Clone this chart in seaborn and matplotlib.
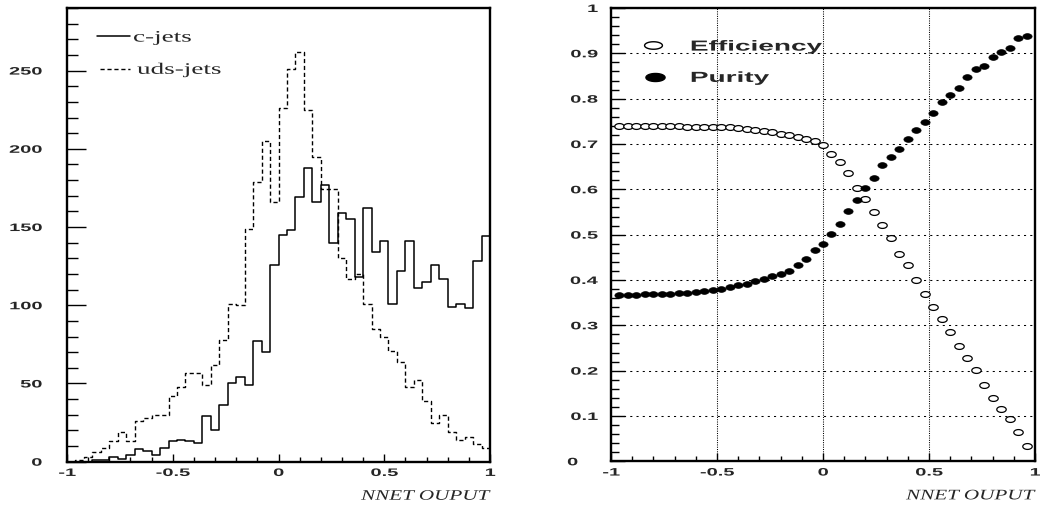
import matplotlib
matplotlib.use("Agg")
import matplotlib.pyplot as plt
import numpy as np
import pandas as pd
import seaborn as sns
from matplotlib.path import Path
from matplotlib.patheffects import AbstractPathEffect
from matplotlib.ticker import MultipleLocator
from matplotlib.transforms import Affine2D, ScaledTranslation

# ---- data ------------------------------------------------------------------
bin_edges = np.linspace(-1.0, 1.0, 51)   # 50 bins of width 0.04

c_jets = [0, 0, 0, 1, 1, 3, 2, 4, 8, 7,
          4, 9, 13, 14, 13, 12, 29, 20, 36, 50,
          54, 49, 77, 70, 126, 145, 148, 169, 188, 166,
          177, 140, 159, 155, 118, 162, 134, 141, 101, 122,
          141, 111, 115, 126, 117, 99, 101, 98, 128, 144]

uds_jets = [0, 1, 3, 6, 9, 13, 19, 13, 26, 28,
            30, 30, 42, 48, 57, 57, 49, 62, 78, 101,
            100, 149, 179, 205, 166, 226, 251, 262, 225, 195,
            174, 174, 130, 117, 120, 101, 85, 80, 71, 64,
            48, 52, 39, 25, 30, 19, 14, 16, 11, 9]

nnet_cut = np.round(np.linspace(-0.96, 0.96, 49), 2)

efficiency = [0.739, 0.739, 0.739, 0.739, 0.739, 0.739, 0.739, 0.739, 0.738, 0.738,
              0.738, 0.738, 0.737, 0.737, 0.735, 0.733, 0.731, 0.729, 0.726, 0.722,
              0.719, 0.715, 0.710, 0.706, 0.697, 0.678, 0.660, 0.637, 0.604, 0.578,
              0.549, 0.521, 0.492, 0.457, 0.433, 0.399, 0.369, 0.340, 0.315, 0.286,
              0.254, 0.227, 0.201, 0.168, 0.139, 0.115, 0.093, 0.065, 0.034]

purity = [0.366, 0.366, 0.367, 0.368, 0.369, 0.369, 0.370, 0.371, 0.372, 0.374,
          0.376, 0.378, 0.381, 0.384, 0.388, 0.392, 0.397, 0.402, 0.408, 0.414,
          0.420, 0.432, 0.446, 0.467, 0.480, 0.501, 0.524, 0.553, 0.576, 0.604,
          0.624, 0.654, 0.671, 0.689, 0.712, 0.730, 0.748, 0.768, 0.792, 0.809,
          0.824, 0.847, 0.865, 0.871, 0.891, 0.903, 0.912, 0.934, 0.939]

TICK_FONT = {"family": "Liberation Sans", "weight": "bold", "size": 7.8}
TITLE_FONT = {"family": "Liberation Serif", "style": "italic", "size": 10.5}

sns.set_style("white")
plt.rcParams["font.family"] = ["Liberation Sans", "DejaVu Sans"]


class HStretch(AbstractPathEffect):
    """Widen glyphs horizontally (the reference was rendered stretched)."""

    def __init__(self, sx, anchor=0.0):
        super().__init__()
        self._sx = sx
        self._anchor = anchor

    def draw_path(self, renderer, gc, tpath, affine, rgbFace=None):
        xs = tpath.vertices[:, 0]
        x0 = xs.min() + (xs.max() - xs.min()) * self._anchor if len(xs) else 0.0
        pre = Affine2D().translate(-x0, 0).scale(self._sx, 1.0).translate(x0, 0)
        renderer.draw_path(gc, tpath, pre + affine, rgbFace)


# ellipse markers (ROOT output is stretched horizontally)
t = np.linspace(0, 2 * np.pi, 60)
ellipse = Path(np.column_stack([np.cos(t), 0.62 * np.sin(t)]), closed=True)
wide_ellipse = Path(np.column_stack([np.cos(t), 0.42 * np.sin(t)]), closed=True)


def style_axes(ax, ymajor, yminor, ymax):
    ax.set_xlim(-1, 1)
    ax.set_ylim(0, ymax)
    ax.xaxis.set_major_locator(MultipleLocator(0.5))
    ax.xaxis.set_minor_locator(MultipleLocator(0.1))
    ax.yaxis.set_major_locator(MultipleLocator(ymajor))
    ax.yaxis.set_minor_locator(MultipleLocator(yminor))
    for sp in ax.spines.values():
        sp.set_visible(True)
        sp.set_color("black")
        sp.set_linewidth(1.7)
    ax.tick_params(which="both", direction="in", bottom=True, left=True,
                   top=False, right=False, color="black", width=1.0)
    ax.tick_params(axis="x", which="major", length=6, pad=4.5)
    ax.tick_params(axis="x", which="minor", length=3.6)
    ax.xaxis.set_major_formatter(plt.FuncFormatter(lambda v, p: f"{v:g}"))
    ax.yaxis.set_major_formatter(plt.FuncFormatter(lambda v, p: f"{v:g}"))
    for lab in ax.get_xticklabels():
        lab.set_fontproperties(TICK_FONT)
        lab.set_path_effects([HStretch(1.85, 0.5)])
    for lab in ax.get_yticklabels():
        lab.set_fontproperties(TICK_FONT)
        lab.set_path_effects([HStretch(1.85, 1.0)])
    ax.set_ylabel("")
    ax.set_xlabel("NNET OUPUT", loc="right", labelpad=8.5, fontdict=TITLE_FONT)
    ax.xaxis.label.set_path_effects([HStretch(1.45, 1.0)])


fig = plt.figure(figsize=(10.4, 5.07), dpi=100)
ax1 = fig.add_axes([67 / 1040, 1 - 461.7 / 507, 423 / 1040, 453.7 / 507])
ax2 = fig.add_axes([611 / 1040, 1 - 461.3 / 507, 424 / 1040, 453.3 / 507])

# ---- left: NNET output histograms ------------------------------------------
hist_df = pd.DataFrame({
    "nnet": (bin_edges[:-1] + bin_edges[1:]) / 2,
    "c": c_jets,
    "uds": uds_jets,
})
sns.histplot(data=hist_df, x="nnet", weights="uds", bins=len(c_jets),
             binrange=(-1, 1), element="step", fill=False, color="black",
             linewidth=1.0, linestyle=(0, (3, 2)), ax=ax1)
sns.histplot(data=hist_df, x="nnet", weights="c", bins=len(c_jets),
             binrange=(-1, 1), element="step", fill=False, color="black",
             linewidth=1.1, ax=ax1)

ax1.plot([0.071, 0.149], [0.938, 0.938], color="black", lw=1.1,
         transform=ax1.transAxes)
ax1.plot([0.078, 0.149], [0.865, 0.865], color="black", lw=1.0,
         ls=(0, (3, 2)), transform=ax1.transAxes)
legend_serif = {"family": "Liberation Serif", "size": 11.5}
ax1.text(0.156, 0.926, "c-jets", transform=ax1.transAxes, va="baseline",
         path_effects=[HStretch(1.7, 0.0)], **legend_serif)
ax1.text(0.1655, 0.855, "uds-jets", transform=ax1.transAxes, va="baseline",
         path_effects=[HStretch(1.7, 0.0)], **legend_serif)

style_axes(ax1, 50, 10, 290)
ax1.tick_params(axis="y", which="major", length=14, pad=18)
ax1.tick_params(axis="y", which="minor", length=8)

# ---- right: efficiency and purity vs cut -----------------------------------
eff_df = pd.DataFrame({"cut": nnet_cut, "efficiency": efficiency, "purity": purity})
ax2.yaxis.grid(True, color="black", lw=0.75, ls=(0, (2, 4)))
ax2.xaxis.grid(True, color="black", lw=0.75, ls=(0, (1, 1.2)))
ax2.set_axisbelow(True)
sns.scatterplot(data=eff_df, x="cut", y="efficiency", marker=ellipse, s=46,
                facecolor="white", edgecolor="black", linewidth=0.9, ax=ax2)
sns.scatterplot(data=eff_df, x="cut", y="purity", marker=ellipse, s=44,
                color="black", edgecolor="black", linewidth=0.5, ax=ax2)

ax2.scatter([0.100], [0.918], marker=wide_ellipse, s=165, facecolor="white",
            edgecolor="black", linewidth=1.0, transform=ax2.transAxes, clip_on=False)
ax2.scatter([0.104], [0.848], marker=wide_ellipse, s=190, color="black",
            transform=ax2.transAxes, clip_on=False)
legend_bold = {"family": "Liberation Sans", "weight": "bold", "size": 10.5}
ax2.text(0.186, 0.906, "Efficiency", transform=ax2.transAxes, va="baseline",
         path_effects=[HStretch(1.92, 0.0)], **legend_bold)
ax2.text(0.186, 0.837, "Purity", transform=ax2.transAxes, va="baseline",
         path_effects=[HStretch(1.92, 0.0)], **legend_bold)

style_axes(ax2, 0.1, 0.02, 1.0)
ax2.tick_params(axis="y", which="major", length=10, pad=9.5)
ax2.tick_params(axis="y", which="minor", length=5.5)

# ROOT draws the "0" label of the efficiency axis further left
fig.canvas.draw()
for tick in ax2.yaxis.get_major_ticks():
    if abs(tick.get_loc()) < 1e-9:
        tick.label1.set_transform(tick.label1.get_transform()
                                  + ScaledTranslation(-0.2, 0, fig.dpi_scale_trans))

fig.savefig("out.png", dpi=100, facecolor="white")
